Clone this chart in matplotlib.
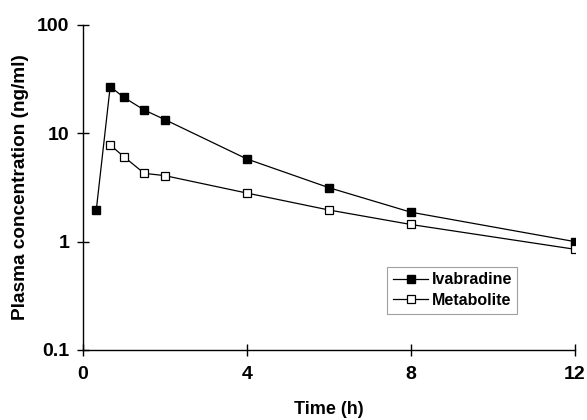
from matplotlib import pyplot as plt
from matplotlib.ticker import FixedLocator, NullLocator

plt.rcParams['font.family'] = 'Liberation Sans'
plt.rcParams['font.weight'] = 'bold'

# Sampling times (h)
time_ivabradine = [0.33, 0.67, 1, 1.5, 2, 4, 6, 8, 12]
time_metabolite = [0.67, 1, 1.5, 2, 4, 6, 8, 12]

# Plasma concentrations (ng/ml)
conc_ivabradine = [1.95, 27.0, 21.5, 16.4, 13.4, 5.8, 3.15, 1.87, 1.0]
conc_metabolite = [7.8, 6.1, 4.27, 4.07, 2.81, 1.96, 1.44, 0.85]

x_ticks = [0, 4, 8, 12]
y_ticks = [0.1, 1, 10, 100]
y_tick_labels = ["0.1", "1", "10", "100"]

fig = plt.figure(figsize=[5.87, 4.20], dpi=100)
ax = fig.add_axes([0.1409, 0.1667, 0.8387, 0.7738])

ax.plot(time_ivabradine, conc_ivabradine, color='black', lw=0.9,
        marker='s', markersize=6, markerfacecolor='black',
        markeredgecolor='black', label='Ivabradine')
ax.plot(time_metabolite, conc_metabolite, color='black', lw=0.9,
        marker='s', markersize=6, markerfacecolor='white',
        markeredgecolor='black', markeredgewidth=0.9, label='Metabolite')

ax.set_yscale('log')
ax.set_xlim(0, 12)
ax.set_ylim(0.1, 100)

ax.yaxis.set_major_locator(FixedLocator(y_ticks))
ax.yaxis.set_minor_locator(NullLocator())
ax.set_yticklabels(y_tick_labels)
ax.set_xticks(x_ticks)

# Only left and bottom axes, ticks crossing the axis lines
ax.spines['top'].set_visible(False)
ax.spines['right'].set_visible(False)
ax.spines['left'].set_linewidth(1.0)
ax.spines['bottom'].set_linewidth(1.0)
ax.tick_params(axis='both', direction='inout', length=9, width=1.0,
               labelsize=14)
ax.tick_params(axis='x', pad=7)
ax.tick_params(axis='y', pad=5)
for lab in ax.get_xticklabels() + ax.get_yticklabels():
    lab.set_fontweight('bold')

ax.set_xlabel("Time (h)", fontsize=13, fontweight='bold', labelpad=13)
ax.set_ylabel("Plasma concentration (ng/ml)", fontsize=13.7,
              fontweight='bold', labelpad=6)

leg = ax.legend(loc='upper left', bbox_to_anchor=(0.619, 0.256),
                borderaxespad=0, frameon=True, fancybox=False,
                handlelength=2.2, handletextpad=0.2, borderpad=0.35,
                labelspacing=0.35, prop={'weight': 'bold', 'size': 11.5})
leg.get_frame().set_edgecolor('#888888')
leg.get_frame().set_linewidth(0.8)

plt.savefig("out.png", dpi=100)
